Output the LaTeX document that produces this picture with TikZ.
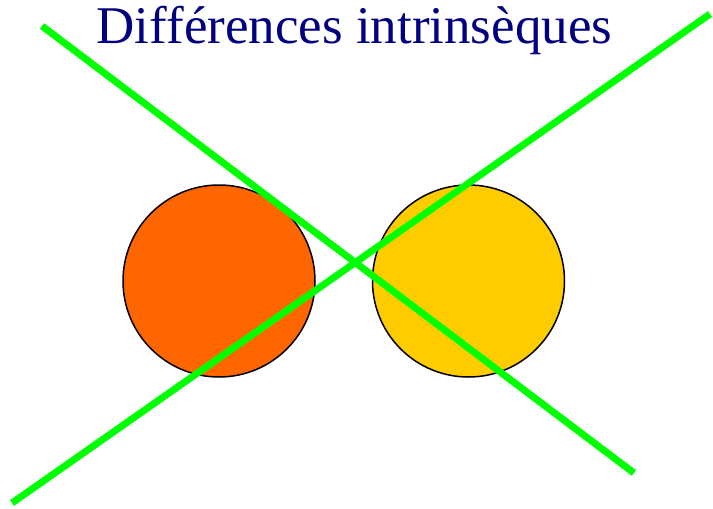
\documentclass[tikz,border=0pt]{standalone}
\usepackage{fontspec}
\setmainfont{Liberation Serif}
\definecolor{navy}{RGB}{0,0,128}
\definecolor{orng}{RGB}{255,102,0}
\definecolor{yelw}{RGB}{255,204,0}
\definecolor{grn}{RGB}{0,255,0}
\tikzset{
  disc/.style={circle,draw=black,line width=1.5pt,minimum size=192pt,inner sep=0pt},
  cross/.style={draw=grn,line width=7pt},
  title/.style={text=navy,font=\fontsize{53}{60}\selectfont,anchor=base,inner sep=0pt}
}
\begin{document}
\begin{tikzpicture}[x=1pt,y=-1pt]
\useasboundingbox (0,0) rectangle (713,509);
\node[title] (t) at (354.5,43) {Différences intrinsèques};
\node[disc,fill=orng] (a) at (219,281) {};
\node[disc,fill=yelw] (b) at (468.5,281) {};
\coordinate (l1s) at (42,26);
\coordinate (l1e) at (634,473);
\coordinate (l2s) at (12,503);
\coordinate (l2e) at (710,14);
\draw[cross] (l1s) -- (l1e);
\draw[cross] (l2s) -- (l2e);
\end{tikzpicture}
\end{document}
